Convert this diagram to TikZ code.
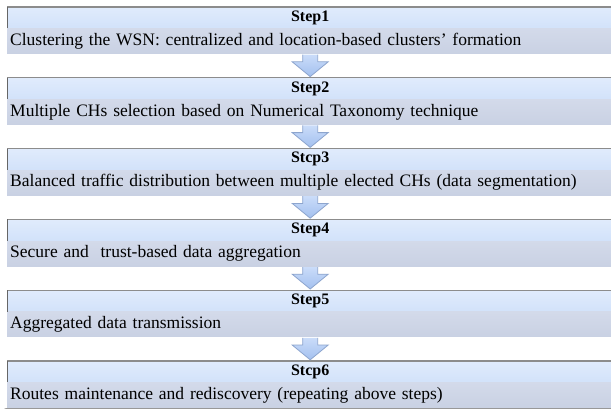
\documentclass[tikz,border=0pt]{standalone}
\usepackage{fontspec}
\setmainfont{Liberation Serif}
\usetikzlibrary{calc,positioning}
\pgfdeclarelayer{bg}
\pgfsetlayers{bg,main}
\definecolor{headtop}{HTML}{E0EBFC}
\definecolor{headbot}{HTML}{D2E2FA}
\definecolor{bodytop}{HTML}{D3DAEA}
\definecolor{bodybot}{HTML}{C9D1E3}
\definecolor{arrowtop}{HTML}{CADCF9}
\definecolor{arrowbot}{HTML}{A3C0EF}
\definecolor{arrowline}{HTML}{8DA5CE}
\tikzset{
  headbox/.style={rectangle, anchor=north west, minimum width=606pt, minimum height=21pt,
    inner sep=0pt, top color=headtop, bottom color=headbot,
    font=\bfseries\fontsize{16}{18}\selectfont},
  bodybox/.style={rectangle, anchor=north west, text width=600pt, minimum height=25pt,
    inner xsep=3pt, inner ysep=0pt, align=left, top color=bodytop, bottom color=bodybot,
    font=\fontsize{17.5}{20}\selectfont},
  blockarrow/.style={draw=arrowline, line width=0.8pt, top color=arrowtop, bottom color=arrowbot, line join=miter},
  edgeline/.style={draw=black!45, line width=1.2pt},
  sideline/.style={draw=black!60, line width=1pt},
}
\begin{document}
\begin{tikzpicture}[x=1pt,y=-1pt]
\useasboundingbox (0,0) rectangle (611,408);
\fill[white] (0,0) rectangle (611,408);
% step boxes
\node[headbox] (h1) at (7,7) {Step1};
\node[bodybox] (b1) at (h1.south west) {Clustering the WSN: centralized and location-based clusters' formation};
\node[headbox] (h2) at (7,77.8) {Step2};
\node[bodybox] (b2) at (h2.south west) {Multiple CHs selection based on Numerical Taxonomy technique};
\node[headbox] (h3) at (7,148.6) {Stcp3};
\node[bodybox] (b3) at (h3.south west) {Balanced traffic distribution between multiple elected CHs (data segmentation)};
\node[headbox] (h4) at (7,219.4) {Step4};
\node[bodybox] (b4) at (h4.south west) {Secure and\ \ trust-based data aggregation};
\node[headbox] (h5) at (7,290.2) {Step5};
\node[bodybox] (b5) at (h5.south west) {Aggregated data transmission};
\node[headbox] (h6) at (7,361) {Stcp6};
\node[bodybox] (b6) at (h6.south west) {Routes maintenance and rediscovery (repeating above steps)};
% borders and shadows
\foreach \i in {1,...,6}{
  \draw[edgeline] (h\i.north west) -- (h\i.north east);
  \draw[sideline] (h\i.north west) -- (h\i.south west);
  \begin{pgfonlayer}{bg}
    \foreach \d in {0,1,2,3}{
      \fill[black, opacity=0.12] ($(b\i.north west)+(-1-0.7*\d,0)$) rectangle ($(b\i.south east)+(0,1+0.9*\d)$);
    }
  \end{pgfonlayer}
}
% arrows
\foreach \a/\b in {1/2,2/3,3/4,4/5,5/6}{
  \draw[blockarrow] ($(b\a.south)+(-7.5,0.8)$) -- ($(h\b.north)+(-7.5,-16)$) -- ($(h\b.north)+(-18,-16)$)
    -- ($(h\b.north)+(0,-1.2)$) -- ($(h\b.north)+(18,-16)$) -- ($(h\b.north)+(7.5,-16)$) -- ($(b\a.south)+(7.5,0.8)$);
}
\end{tikzpicture}
\end{document}
